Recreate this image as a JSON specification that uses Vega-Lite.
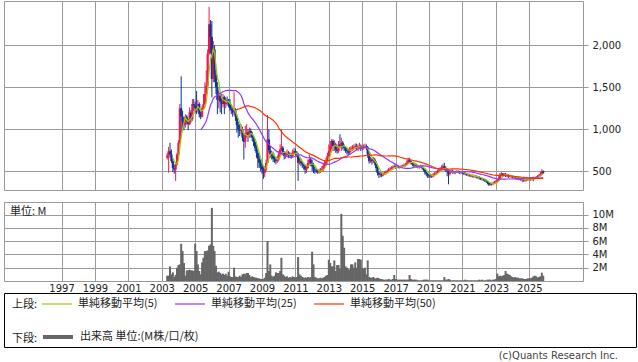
{
  "$schema": "https://vega.github.io/schema/vega-lite/v6.json",
  "background": "white",
  "padding": {"left": 3, "top": 0, "right": 0, "bottom": 0},
  "config": {
    "font": "DejaVu Sans",
    "view": {"stroke": "#999999", "strokeWidth": 1},
    "axis": {"gridColor": "#9a9a9a", "gridWidth": 1, "gridOpacity": 1, "domain": false, "labelFont": "DejaVu Sans", "labelFontSize": 10, "labelColor": "#222222", "tickColor": "#999999", "title": null},
    "legend": {"labelFont": "Noto Sans CJK JP", "labelFontSize": 11, "labelColor": "#222222", "titleFont": "Noto Sans CJK JP", "titleFontSize": 11, "titleFontWeight": "normal", "titleColor": "#222222", "padding": 0}
  },
  "datasets": {
    "px": [
      {"d":"2003-05","o":660,"h":720,"l":640,"c":690,"v":0.8},
      {"d":"2003-06","o":690,"h":790,"l":484,"c":740,"v":0.8},
      {"d":"2003-07","o":740,"h":840,"l":660,"c":700,"v":2.2},
      {"d":"2003-08","o":700,"h":760,"l":600,"c":620,"v":1.0},
      {"d":"2003-09","o":620,"h":650,"l":490,"c":540,"v":1.3},
      {"d":"2003-10","o":540,"h":580,"l":470,"c":520,"v":0.6},
      {"d":"2003-11","o":520,"h":610,"l":385,"c":580,"v":0.9},
      {"d":"2003-12","o":580,"h":720,"l":570,"c":700,"v":2.0},
      {"d":"2004-01","o":700,"h":870,"l":680,"c":840,"v":2.4},
      {"d":"2004-02","o":840,"h":1300,"l":830,"c":1250,"v":2.5},
      {"d":"2004-03","o":1250,"h":1630,"l":950,"c":1150,"v":5.6},
      {"d":"2004-04","o":1150,"h":1220,"l":980,"c":1100,"v":4.5},
      {"d":"2004-05","o":1100,"h":1150,"l":990,"c":1050,"v":2.7},
      {"d":"2004-06","o":1050,"h":1180,"l":1020,"c":1150,"v":0.8},
      {"d":"2004-07","o":1150,"h":1170,"l":1060,"c":1100,"v":1.6},
      {"d":"2004-08","o":1100,"h":1120,"l":990,"c":1060,"v":1.6},
      {"d":"2004-09","o":1060,"h":1260,"l":1050,"c":1200,"v":1.7},
      {"d":"2004-10","o":1200,"h":1230,"l":1080,"c":1120,"v":1.6},
      {"d":"2004-11","o":1120,"h":1360,"l":1100,"c":1300,"v":1.6},
      {"d":"2004-12","o":1300,"h":1360,"l":1220,"c":1280,"v":1.5},
      {"d":"2005-01","o":1280,"h":1330,"l":1200,"c":1250,"v":5.6},
      {"d":"2005-02","o":1250,"h":1456,"l":1180,"c":1230,"v":4.5},
      {"d":"2005-03","o":1230,"h":1350,"l":1200,"c":1300,"v":2.5},
      {"d":"2005-04","o":1300,"h":1320,"l":1140,"c":1180,"v":1.5},
      {"d":"2005-05","o":1180,"h":1210,"l":1120,"c":1150,"v":1.0},
      {"d":"2005-06","o":1150,"h":1280,"l":1140,"c":1250,"v":2.8},
      {"d":"2005-07","o":1250,"h":1420,"l":1230,"c":1300,"v":3.5},
      {"d":"2005-08","o":1300,"h":1560,"l":1290,"c":1420,"v":4.5},
      {"d":"2005-09","o":1420,"h":1700,"l":1400,"c":1520,"v":4.5},
      {"d":"2005-10","o":1520,"h":1950,"l":1490,"c":1900,"v":4.6},
      {"d":"2005-11","o":1900,"h":2456,"l":1880,"c":2250,"v":5.3},
      {"d":"2005-12","o":2250,"h":2300,"l":1900,"c":2100,"v":5.5},
      {"d":"2006-01","o":2100,"h":2290,"l":1380,"c":1600,"v":11.0},
      {"d":"2006-02","o":1600,"h":2050,"l":1560,"c":1950,"v":5.3},
      {"d":"2006-03","o":1950,"h":2000,"l":1560,"c":1650,"v":4.5},
      {"d":"2006-04","o":1650,"h":1700,"l":1420,"c":1500,"v":2.3},
      {"d":"2006-05","o":1500,"h":1560,"l":1180,"c":1350,"v":1.3},
      {"d":"2006-06","o":1350,"h":1460,"l":1250,"c":1400,"v":1.4},
      {"d":"2006-07","o":1400,"h":1440,"l":1200,"c":1330,"v":1.2},
      {"d":"2006-08","o":1330,"h":1420,"l":1180,"c":1300,"v":1.0},
      {"d":"2006-09","o":1300,"h":1420,"l":1260,"c":1380,"v":1.1},
      {"d":"2006-10","o":1380,"h":1400,"l":1180,"c":1300,"v":0.9},
      {"d":"2006-11","o":1300,"h":1380,"l":1250,"c":1340,"v":1.1},
      {"d":"2006-12","o":1340,"h":1390,"l":1280,"c":1330,"v":0.8},
      {"d":"2007-01","o":1330,"h":1360,"l":1260,"c":1310,"v":1.4},
      {"d":"2007-02","o":1310,"h":1360,"l":1220,"c":1250,"v":0.7},
      {"d":"2007-03","o":1250,"h":1300,"l":1180,"c":1230,"v":0.6},
      {"d":"2007-04","o":1230,"h":1260,"l":1150,"c":1200,"v":0.6},
      {"d":"2007-05","o":1200,"h":1440,"l":1170,"c":1220,"v":2.0},
      {"d":"2007-06","o":1220,"h":1250,"l":1100,"c":1150,"v":0.7},
      {"d":"2007-07","o":1150,"h":1180,"l":960,"c":1050,"v":0.6},
      {"d":"2007-08","o":1050,"h":1090,"l":900,"c":1000,"v":0.6},
      {"d":"2007-09","o":1000,"h":1060,"l":920,"c":980,"v":0.8},
      {"d":"2007-10","o":980,"h":1060,"l":940,"c":1000,"v":0.6},
      {"d":"2007-11","o":1000,"h":1030,"l":860,"c":900,"v":1.0},
      {"d":"2007-12","o":900,"h":940,"l":640,"c":850,"v":1.1},
      {"d":"2008-01","o":850,"h":1040,"l":780,"c":950,"v":1.0},
      {"d":"2008-02","o":950,"h":1060,"l":900,"c":960,"v":1.2},
      {"d":"2008-03","o":960,"h":1000,"l":850,"c":930,"v":1.2},
      {"d":"2008-04","o":930,"h":1020,"l":900,"c":980,"v":0.9},
      {"d":"2008-05","o":980,"h":1010,"l":900,"c":940,"v":0.6},
      {"d":"2008-06","o":940,"h":970,"l":860,"c":900,"v":0.7},
      {"d":"2008-07","o":900,"h":930,"l":800,"c":850,"v":0.6},
      {"d":"2008-08","o":850,"h":880,"l":740,"c":780,"v":0.5},
      {"d":"2008-09","o":780,"h":820,"l":660,"c":720,"v":0.5},
      {"d":"2008-10","o":720,"h":760,"l":540,"c":650,"v":0.4},
      {"d":"2008-11","o":650,"h":690,"l":540,"c":600,"v":0.4},
      {"d":"2008-12","o":600,"h":640,"l":500,"c":560,"v":0.3},
      {"d":"2009-01","o":560,"h":620,"l":470,"c":520,"v":0.3},
      {"d":"2009-02","o":520,"h":560,"l":410,"c":480,"v":0.3},
      {"d":"2009-03","o":480,"h":560,"l":430,"c":520,"v":0.5},
      {"d":"2009-04","o":520,"h":640,"l":500,"c":600,"v":1.2},
      {"d":"2009-05","o":600,"h":1170,"l":590,"c":880,"v":6.0},
      {"d":"2009-06","o":880,"h":1000,"l":720,"c":750,"v":1.5},
      {"d":"2009-07","o":750,"h":800,"l":660,"c":700,"v":2.5},
      {"d":"2009-08","o":700,"h":740,"l":640,"c":680,"v":0.8},
      {"d":"2009-09","o":680,"h":720,"l":610,"c":650,"v":0.6},
      {"d":"2009-10","o":650,"h":690,"l":600,"c":640,"v":0.8},
      {"d":"2009-11","o":640,"h":670,"l":580,"c":620,"v":1.3},
      {"d":"2009-12","o":620,"h":680,"l":600,"c":640,"v":1.2},
      {"d":"2010-01","o":640,"h":740,"l":620,"c":700,"v":1.2},
      {"d":"2010-02","o":700,"h":820,"l":680,"c":760,"v":1.5},
      {"d":"2010-03","o":760,"h":1000,"l":740,"c":780,"v":3.5},
      {"d":"2010-04","o":780,"h":800,"l":690,"c":720,"v":1.0},
      {"d":"2010-05","o":720,"h":740,"l":640,"c":680,"v":0.8},
      {"d":"2010-06","o":680,"h":730,"l":650,"c":700,"v":0.6},
      {"d":"2010-07","o":700,"h":760,"l":680,"c":720,"v":0.7},
      {"d":"2010-08","o":720,"h":740,"l":660,"c":690,"v":0.5},
      {"d":"2010-09","o":690,"h":730,"l":660,"c":700,"v":0.6},
      {"d":"2010-10","o":700,"h":720,"l":650,"c":680,"v":0.5},
      {"d":"2010-11","o":680,"h":760,"l":670,"c":720,"v":0.7},
      {"d":"2010-12","o":720,"h":780,"l":700,"c":740,"v":0.6},
      {"d":"2011-01","o":740,"h":770,"l":690,"c":720,"v":0.5},
      {"d":"2011-02","o":720,"h":740,"l":670,"c":700,"v":0.6},
      {"d":"2011-03","o":700,"h":720,"l":385,"c":600,"v":3.6},
      {"d":"2011-04","o":600,"h":660,"l":580,"c":620,"v":1.0},
      {"d":"2011-05","o":620,"h":650,"l":560,"c":600,"v":0.8},
      {"d":"2011-06","o":600,"h":620,"l":540,"c":580,"v":0.6},
      {"d":"2011-07","o":580,"h":600,"l":520,"c":560,"v":0.5},
      {"d":"2011-08","o":560,"h":580,"l":470,"c":520,"v":0.5},
      {"d":"2011-09","o":520,"h":570,"l":480,"c":540,"v":0.5},
      {"d":"2011-10","o":540,"h":640,"l":530,"c":600,"v":0.6},
      {"d":"2011-11","o":600,"h":700,"l":580,"c":640,"v":0.5},
      {"d":"2011-12","o":640,"h":660,"l":560,"c":600,"v":0.6},
      {"d":"2012-01","o":600,"h":640,"l":500,"c":560,"v":4.4},
      {"d":"2012-02","o":560,"h":600,"l":480,"c":520,"v":2.5},
      {"d":"2012-03","o":520,"h":550,"l":470,"c":510,"v":0.6},
      {"d":"2012-04","o":510,"h":540,"l":480,"c":500,"v":0.5},
      {"d":"2012-05","o":500,"h":520,"l":470,"c":490,"v":0.4},
      {"d":"2012-06","o":490,"h":530,"l":470,"c":500,"v":0.4},
      {"d":"2012-07","o":500,"h":540,"l":480,"c":510,"v":0.5},
      {"d":"2012-08","o":510,"h":560,"l":490,"c":520,"v":0.4},
      {"d":"2012-09","o":520,"h":600,"l":500,"c":560,"v":0.5},
      {"d":"2012-10","o":560,"h":630,"l":540,"c":590,"v":0.6},
      {"d":"2012-11","o":590,"h":660,"l":570,"c":620,"v":0.8},
      {"d":"2012-12","o":620,"h":720,"l":600,"c":680,"v":0.9},
      {"d":"2013-01","o":680,"h":820,"l":660,"c":740,"v":3.2},
      {"d":"2013-02","o":740,"h":860,"l":720,"c":800,"v":2.7},
      {"d":"2013-03","o":800,"h":880,"l":760,"c":860,"v":2.2},
      {"d":"2013-04","o":860,"h":880,"l":740,"c":800,"v":2.2},
      {"d":"2013-05","o":800,"h":870,"l":740,"c":820,"v":3.1},
      {"d":"2013-06","o":820,"h":840,"l":720,"c":760,"v":1.5},
      {"d":"2013-07","o":760,"h":800,"l":710,"c":740,"v":2.4},
      {"d":"2013-08","o":740,"h":860,"l":720,"c":820,"v":2.4},
      {"d":"2013-09","o":820,"h":940,"l":780,"c":800,"v":1.8},
      {"d":"2013-10","o":800,"h":900,"l":740,"c":840,"v":10.1},
      {"d":"2013-11","o":840,"h":860,"l":760,"c":790,"v":6.8},
      {"d":"2013-12","o":790,"h":820,"l":740,"c":780,"v":5.0},
      {"d":"2014-01","o":780,"h":800,"l":720,"c":750,"v":2.2},
      {"d":"2014-02","o":750,"h":780,"l":700,"c":740,"v":2.0},
      {"d":"2014-03","o":740,"h":770,"l":690,"c":720,"v":1.8},
      {"d":"2014-04","o":720,"h":790,"l":700,"c":760,"v":1.7},
      {"d":"2014-05","o":760,"h":800,"l":730,"c":770,"v":2.5},
      {"d":"2014-06","o":770,"h":810,"l":740,"c":780,"v":2.5},
      {"d":"2014-07","o":780,"h":820,"l":750,"c":790,"v":2.0},
      {"d":"2014-08","o":790,"h":830,"l":760,"c":800,"v":2.8},
      {"d":"2014-09","o":800,"h":830,"l":750,"c":780,"v":2.0},
      {"d":"2014-10","o":780,"h":820,"l":740,"c":790,"v":3.3},
      {"d":"2014-11","o":790,"h":840,"l":760,"c":800,"v":3.3},
      {"d":"2014-12","o":800,"h":820,"l":740,"c":770,"v":3.2},
      {"d":"2015-01","o":770,"h":810,"l":750,"c":780,"v":2.0},
      {"d":"2015-02","o":780,"h":820,"l":760,"c":790,"v":1.8},
      {"d":"2015-03","o":790,"h":830,"l":770,"c":800,"v":2.0},
      {"d":"2015-04","o":800,"h":820,"l":750,"c":780,"v":1.0},
      {"d":"2015-05","o":780,"h":800,"l":660,"c":700,"v":3.1},
      {"d":"2015-06","o":700,"h":720,"l":590,"c":620,"v":0.6},
      {"d":"2015-07","o":620,"h":670,"l":600,"c":640,"v":0.5},
      {"d":"2015-08","o":640,"h":660,"l":580,"c":620,"v":0.5},
      {"d":"2015-09","o":620,"h":670,"l":600,"c":640,"v":0.6},
      {"d":"2015-10","o":640,"h":660,"l":570,"c":600,"v":0.4},
      {"d":"2015-11","o":600,"h":620,"l":500,"c":540,"v":0.4},
      {"d":"2015-12","o":540,"h":560,"l":450,"c":480,"v":0.5},
      {"d":"2016-01","o":480,"h":500,"l":420,"c":460,"v":0.4},
      {"d":"2016-02","o":460,"h":500,"l":430,"c":470,"v":0.3},
      {"d":"2016-03","o":470,"h":490,"l":430,"c":450,"v":0.3},
      {"d":"2016-04","o":450,"h":490,"l":440,"c":470,"v":0.2},
      {"d":"2016-05","o":470,"h":500,"l":460,"c":480,"v":0.2},
      {"d":"2016-06","o":480,"h":510,"l":460,"c":490,"v":0.2},
      {"d":"2016-07","o":490,"h":520,"l":480,"c":500,"v":0.2},
      {"d":"2016-08","o":500,"h":540,"l":490,"c":520,"v":0.3},
      {"d":"2016-09","o":520,"h":550,"l":510,"c":530,"v":0.2},
      {"d":"2016-10","o":530,"h":560,"l":520,"c":540,"v":0.2},
      {"d":"2016-11","o":540,"h":570,"l":520,"c":550,"v":0.3},
      {"d":"2016-12","o":550,"h":580,"l":540,"c":560,"v":0.9},
      {"d":"2017-01","o":560,"h":570,"l":530,"c":550,"v":0.3},
      {"d":"2017-02","o":550,"h":575,"l":540,"c":560,"v":0.2},
      {"d":"2017-03","o":560,"h":570,"l":535,"c":550,"v":0.2},
      {"d":"2017-04","o":550,"h":565,"l":530,"c":550,"v":0.2},
      {"d":"2017-05","o":550,"h":575,"l":540,"c":560,"v":0.2},
      {"d":"2017-06","o":560,"h":580,"l":545,"c":560,"v":0.2},
      {"d":"2017-07","o":560,"h":590,"l":550,"c":570,"v":0.2},
      {"d":"2017-08","o":570,"h":600,"l":555,"c":580,"v":0.2},
      {"d":"2017-09","o":580,"h":630,"l":570,"c":600,"v":0.2},
      {"d":"2017-10","o":600,"h":660,"l":590,"c":630,"v":0.2},
      {"d":"2017-11","o":630,"h":660,"l":600,"c":620,"v":0.9},
      {"d":"2017-12","o":620,"h":630,"l":580,"c":600,"v":0.3},
      {"d":"2018-01","o":600,"h":610,"l":560,"c":580,"v":0.2},
      {"d":"2018-02","o":580,"h":600,"l":550,"c":570,"v":0.2},
      {"d":"2018-03","o":570,"h":600,"l":555,"c":580,"v":0.2},
      {"d":"2018-04","o":580,"h":590,"l":545,"c":560,"v":0.2},
      {"d":"2018-05","o":560,"h":575,"l":535,"c":550,"v":0.1},
      {"d":"2018-06","o":550,"h":565,"l":530,"c":550,"v":0.1},
      {"d":"2018-07","o":550,"h":575,"l":540,"c":560,"v":0.1},
      {"d":"2018-08","o":560,"h":570,"l":520,"c":540,"v":0.1},
      {"d":"2018-09","o":540,"h":550,"l":500,"c":520,"v":0.2},
      {"d":"2018-10","o":520,"h":530,"l":460,"c":490,"v":0.2},
      {"d":"2018-11","o":490,"h":500,"l":440,"c":470,"v":0.2},
      {"d":"2018-12","o":470,"h":480,"l":420,"c":450,"v":0.2},
      {"d":"2019-01","o":450,"h":470,"l":420,"c":440,"v":0.1},
      {"d":"2019-02","o":440,"h":470,"l":425,"c":450,"v":0.1},
      {"d":"2019-03","o":450,"h":465,"l":420,"c":440,"v":0.1},
      {"d":"2019-04","o":440,"h":480,"l":430,"c":460,"v":0.1},
      {"d":"2019-05","o":460,"h":490,"l":440,"c":470,"v":0.1},
      {"d":"2019-06","o":470,"h":500,"l":455,"c":480,"v":0.1},
      {"d":"2019-07","o":480,"h":520,"l":470,"c":500,"v":0.1},
      {"d":"2019-08","o":500,"h":540,"l":490,"c":510,"v":0.1},
      {"d":"2019-09","o":510,"h":550,"l":500,"c":520,"v":0.1},
      {"d":"2019-10","o":520,"h":570,"l":510,"c":540,"v":0.1},
      {"d":"2019-11","o":540,"h":590,"l":530,"c":560,"v":0.1},
      {"d":"2019-12","o":560,"h":600,"l":520,"c":540,"v":0.6},
      {"d":"2020-01","o":540,"h":560,"l":490,"c":520,"v":0.2},
      {"d":"2020-02","o":520,"h":540,"l":440,"c":500,"v":0.2},
      {"d":"2020-03","o":500,"h":510,"l":345,"c":470,"v":0.3},
      {"d":"2020-04","o":470,"h":510,"l":450,"c":490,"v":0.2},
      {"d":"2020-05","o":490,"h":520,"l":480,"c":500,"v":0.1},
      {"d":"2020-06","o":500,"h":520,"l":470,"c":490,"v":0.1},
      {"d":"2020-07","o":490,"h":500,"l":465,"c":480,"v":0.1},
      {"d":"2020-08","o":480,"h":505,"l":470,"c":490,"v":0.1},
      {"d":"2020-09","o":490,"h":515,"l":480,"c":500,"v":0.1},
      {"d":"2020-10","o":500,"h":510,"l":475,"c":490,"v":0.1},
      {"d":"2020-11","o":490,"h":505,"l":465,"c":480,"v":0.1},
      {"d":"2020-12","o":480,"h":505,"l":470,"c":490,"v":0.1},
      {"d":"2021-01","o":490,"h":500,"l":465,"c":480,"v":0.1},
      {"d":"2021-02","o":480,"h":495,"l":455,"c":470,"v":0.1},
      {"d":"2021-03","o":470,"h":490,"l":450,"c":470,"v":0.2},
      {"d":"2021-04","o":470,"h":480,"l":445,"c":460,"v":0.1},
      {"d":"2021-05","o":460,"h":475,"l":440,"c":460,"v":0.1},
      {"d":"2021-06","o":460,"h":470,"l":435,"c":450,"v":0.1},
      {"d":"2021-07","o":450,"h":465,"l":430,"c":450,"v":0.1},
      {"d":"2021-08","o":450,"h":460,"l":425,"c":440,"v":0.1},
      {"d":"2021-09","o":440,"h":460,"l":425,"c":440,"v":0.1},
      {"d":"2021-10","o":440,"h":455,"l":420,"c":440,"v":0.1},
      {"d":"2021-11","o":440,"h":450,"l":415,"c":430,"v":0.1},
      {"d":"2021-12","o":430,"h":445,"l":410,"c":430,"v":0.1},
      {"d":"2022-01","o":430,"h":440,"l":400,"c":420,"v":0.2},
      {"d":"2022-02","o":420,"h":430,"l":395,"c":410,"v":0.1},
      {"d":"2022-03","o":410,"h":425,"l":390,"c":410,"v":0.2},
      {"d":"2022-04","o":410,"h":420,"l":385,"c":400,"v":0.1},
      {"d":"2022-05","o":400,"h":410,"l":375,"c":390,"v":0.1},
      {"d":"2022-06","o":390,"h":400,"l":365,"c":380,"v":0.1},
      {"d":"2022-07","o":380,"h":390,"l":345,"c":360,"v":0.2},
      {"d":"2022-08","o":360,"h":370,"l":325,"c":340,"v":0.2},
      {"d":"2022-09","o":340,"h":365,"l":330,"c":350,"v":0.2},
      {"d":"2022-10","o":350,"h":365,"l":330,"c":345,"v":0.1},
      {"d":"2022-11","o":345,"h":375,"l":340,"c":360,"v":0.2},
      {"d":"2022-12","o":360,"h":385,"l":350,"c":370,"v":0.2},
      {"d":"2023-01","o":370,"h":395,"l":360,"c":380,"v":0.3},
      {"d":"2023-02","o":380,"h":410,"l":370,"c":390,"v":1.1},
      {"d":"2023-03","o":390,"h":440,"l":380,"c":410,"v":0.7},
      {"d":"2023-04","o":410,"h":480,"l":400,"c":460,"v":0.8},
      {"d":"2023-05","o":460,"h":490,"l":440,"c":470,"v":0.7},
      {"d":"2023-06","o":470,"h":480,"l":430,"c":450,"v":0.8},
      {"d":"2023-07","o":450,"h":480,"l":440,"c":460,"v":0.9},
      {"d":"2023-08","o":460,"h":480,"l":430,"c":450,"v":1.5},
      {"d":"2023-09","o":450,"h":470,"l":430,"c":450,"v":1.1},
      {"d":"2023-10","o":450,"h":465,"l":420,"c":440,"v":1.0},
      {"d":"2023-11","o":440,"h":460,"l":425,"c":440,"v":0.9},
      {"d":"2023-12","o":440,"h":455,"l":420,"c":440,"v":0.7},
      {"d":"2024-01","o":440,"h":450,"l":415,"c":430,"v":0.6},
      {"d":"2024-02","o":430,"h":445,"l":415,"c":430,"v":0.5},
      {"d":"2024-03","o":430,"h":440,"l":405,"c":420,"v":0.6},
      {"d":"2024-04","o":420,"h":435,"l":400,"c":420,"v":0.5},
      {"d":"2024-05","o":420,"h":430,"l":395,"c":410,"v":0.5},
      {"d":"2024-06","o":410,"h":425,"l":395,"c":410,"v":0.4},
      {"d":"2024-07","o":410,"h":420,"l":385,"c":400,"v":0.4},
      {"d":"2024-08","o":400,"h":415,"l":370,"c":400,"v":0.4},
      {"d":"2024-09","o":400,"h":410,"l":375,"c":390,"v":0.3},
      {"d":"2024-10","o":390,"h":405,"l":375,"c":390,"v":0.3},
      {"d":"2024-11","o":390,"h":415,"l":380,"c":400,"v":0.3},
      {"d":"2024-12","o":400,"h":415,"l":385,"c":400,"v":0.4},
      {"d":"2025-01","o":400,"h":425,"l":390,"c":410,"v":0.4},
      {"d":"2025-02","o":410,"h":420,"l":385,"c":400,"v":0.4},
      {"d":"2025-03","o":400,"h":425,"l":390,"c":410,"v":0.5},
      {"d":"2025-04","o":410,"h":435,"l":380,"c":420,"v":0.7},
      {"d":"2025-05","o":420,"h":435,"l":405,"c":420,"v":0.8},
      {"d":"2025-06","o":420,"h":445,"l":410,"c":430,"v":0.7},
      {"d":"2025-07","o":430,"h":455,"l":420,"c":440,"v":0.5},
      {"d":"2025-08","o":440,"h":470,"l":430,"c":450,"v":0.6},
      {"d":"2025-09","o":450,"h":490,"l":440,"c":470,"v":0.7},
      {"d":"2025-10","o":470,"h":525,"l":460,"c":500,"v":1.25},
      {"d":"2025-11","o":500,"h":510,"l":470,"c":480,"v":0.8}
    ]
  },
  "bounds": "flush",
  "spacing": 12,
  "resolve": {"scale": {"color": "independent", "x": "independent", "y": "independent"}, "legend": {"color": "independent"}},
  "vconcat": [
    {
      "width": 579,
      "height": 189,
      "data": {"name": "px"},
      "encoding": {
        "x": {"field": "d", "type": "temporal",
          "scale": {"domain": [{"year": 1993, "month": 11, "date": 10}, {"year": 2027, "month": 12, "date": 1}]},
          "axis": {"values": [{"year":1997,"month":1,"date":1},{"year":1999,"month":1,"date":1},{"year":2001,"month":1,"date":1},{"year":2003,"month":1,"date":1},{"year":2005,"month":1,"date":1},{"year":2007,"month":1,"date":1},{"year":2009,"month":1,"date":1},{"year":2011,"month":1,"date":1},{"year":2013,"month":1,"date":1},{"year":2015,"month":1,"date":1},{"year":2017,"month":1,"date":1},{"year":2019,"month":1,"date":1},{"year":2021,"month":1,"date":1},{"year":2023,"month":1,"date":1},{"year":2025,"month":1,"date":1}], "labels": false, "ticks": false, "grid": true}
        }
      },
      "layer": [
        {
          "mark": {"type": "rule", "strokeWidth": 1},
          "encoding": {
            "y": {"field": "l", "type": "quantitative", "scale": {"domain": [277, 2527], "nice": false, "zero": false},
              "axis": {"orient": "right", "values": [500, 1000, 1500, 2000], "format": ",d", "grid": true, "tickSize": 5, "labelPadding": 4}},
            "y2": {"field": "h"},
            "color": {"condition": {"test": "datum.c >= datum.o", "value": "#f5154a"}, "value": "#0b3596"}
          }
        },
        {
          "mark": {"type": "bar", "size": 2.2},
          "encoding": {
            "y": {"field": "o", "type": "quantitative"},
            "y2": {"field": "c"},
            "color": {"condition": {"test": "datum.c >= datum.o", "value": "#f5154a"}, "value": "#0b3596"}
          }
        },
        {
          "transform": [
            {"window": [{"op": "mean", "field": "c", "as": "ma"}, {"op": "count", "as": "n"}], "frame": [-4, 0], "sort": [{"field": "d"}]},
            {"filter": "datum.n >= 5"}
          ],
          "mark": {"type": "line", "strokeWidth": 1.2},
          "encoding": {
            "y": {"field": "ma", "type": "quantitative"},
            "color": {"datum": "単純移動平均(5)", "type": "nominal",
              "scale": {"domain": ["単純移動平均(5)", "単純移動平均(25)", "単純移動平均(50)"], "range": ["#99cc00", "#9933ff", "#ff3300"]},
              "legend": {"orient": "none", "legendX": 8, "legendY": 287, "direction": "horizontal", "title": "上段:", "titleOrient": "left", "titleAnchor": "middle", "titleBaseline": "top", "titlePadding": 3, "symbolType": "stroke", "symbolSize": 900, "symbolStrokeWidth": 1.2, "labelOffset": 5, "columnPadding": 14, "labelLimit": 300}}
          }
        },
        {
          "transform": [
            {"window": [{"op": "mean", "field": "c", "as": "ma"}, {"op": "count", "as": "n"}], "frame": [-24, 0], "sort": [{"field": "d"}]},
            {"filter": "datum.n >= 25"}
          ],
          "mark": {"type": "line", "strokeWidth": 1.2},
          "encoding": {
            "y": {"field": "ma", "type": "quantitative"},
            "color": {"datum": "単純移動平均(25)", "type": "nominal"}
          }
        },
        {
          "transform": [
            {"window": [{"op": "mean", "field": "c", "as": "ma"}, {"op": "count", "as": "n"}], "frame": [-49, 0], "sort": [{"field": "d"}]},
            {"filter": "datum.n >= 50"}
          ],
          "mark": {"type": "line", "strokeWidth": 1.2},
          "encoding": {
            "y": {"field": "ma", "type": "quantitative"},
            "color": {"datum": "単純移動平均(50)", "type": "nominal"}
          }
        }
      ]
    },
    {
      "width": 579,
      "height": 79,
      "data": {"name": "px"},
      "title": {"text": "単位: M", "anchor": "start", "orient": "top", "offset": -15, "dx": 6, "font": "Noto Sans CJK JP", "fontSize": 11, "fontWeight": "normal", "color": "#222222"},
      "mark": {"type": "bar", "size": 2, "color": "#666666"},
      "encoding": {
        "x": {"field": "d", "type": "temporal",
          "scale": {"domain": [{"year": 1993, "month": 11, "date": 10}, {"year": 2027, "month": 12, "date": 1}]},
          "axis": {"values": [{"year":1997,"month":1,"date":1},{"year":1999,"month":1,"date":1},{"year":2001,"month":1,"date":1},{"year":2003,"month":1,"date":1},{"year":2005,"month":1,"date":1},{"year":2007,"month":1,"date":1},{"year":2009,"month":1,"date":1},{"year":2011,"month":1,"date":1},{"year":2013,"month":1,"date":1},{"year":2015,"month":1,"date":1},{"year":2017,"month":1,"date":1},{"year":2019,"month":1,"date":1},{"year":2021,"month":1,"date":1},{"year":2023,"month":1,"date":1},{"year":2025,"month":1,"date":1}], "format": "%Y", "labels": true, "ticks": false, "grid": true, "labelPadding": 2, "labelOverlap": false, "labelFlush": false}
        },
        "y": {"field": "v", "type": "quantitative", "scale": {"domain": [0, 11.88], "nice": false},
          "axis": {"orient": "right", "values": [2, 4, 6, 8, 10], "labelExpr": "datum.value + 'M'", "grid": true, "tickSize": 5, "labelPadding": 4}},
        "color": {"datum": "出来高 単位:(M株/口/枚)", "type": "nominal",
          "scale": {"domain": ["出来高 単位:(M株/口/枚)"], "range": ["#666666"]},
          "legend": {"orient": "none", "legendX": 8, "legendY": 118, "direction": "horizontal", "title": "下段:", "titleOrient": "left", "titleAnchor": "middle", "titleBaseline": "top", "titlePadding": 3, "symbolType": "stroke", "symbolSize": 900, "symbolStrokeWidth": 4, "symbolStrokeColor": "#666666", "labelOffset": 5, "labelLimit": 300}}
      }
    },
    {
      "width": 632,
      "height": 54,
      "view": {"stroke": "#000000", "strokeWidth": 1},
      "data": {"values": [{"note": ""}]},
      "mark": {"type": "text"},
      "encoding": {"text": {"field": "note", "type": "nominal"}},
      "title": {"text": "(c)Quants Research Inc.", "orient": "bottom", "anchor": "end", "offset": 4, "dx": -18, "font": "DejaVu Sans", "fontSize": 10, "fontWeight": "normal", "color": "#444444"}
    }
  ]
}
